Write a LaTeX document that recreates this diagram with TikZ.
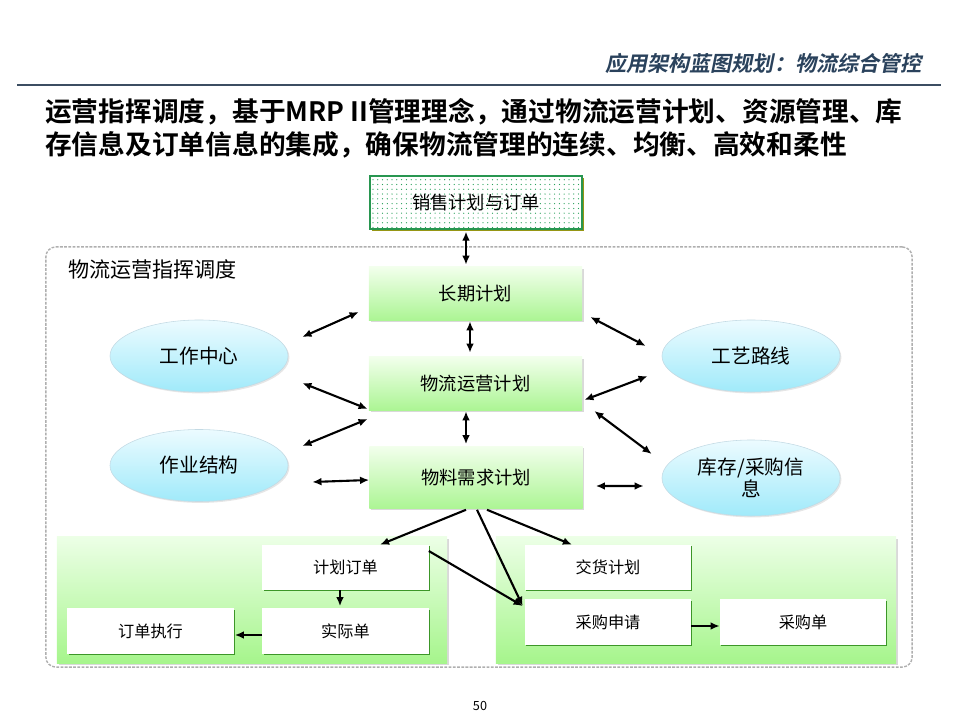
\documentclass[tikz,border=0pt]{standalone}
\usepackage{fontspec}
\setmainfont{Noto Sans CJK SC}
\newfontfamily\headfont[FakeSlant=0.2]{Noto Sans CJK SC Bold}
\newfontfamily\boldfont{Noto Sans CJK SC Bold}
\usetikzlibrary{arrows.meta,shapes.geometric,shadows,patterns,calc}

\definecolor{TitleColor}{RGB}{42,66,92}
\definecolor{RuleColor}{RGB}{60,78,98}
\definecolor{DotGreen}{RGB}{40,160,90}
\definecolor{EdgeGreen}{RGB}{40,150,80}
\definecolor{Olive}{RGB}{150,150,20}
\definecolor{GreenTop}{RGB}{242,255,236}
\definecolor{GreenBottom}{RGB}{172,245,148}
\definecolor{CyanTop}{RGB}{236,251,255}
\definecolor{CyanBottom}{RGB}{160,234,250}
\definecolor{CyanEdge}{RGB}{195,218,228}
\definecolor{PanelTop}{RGB}{236,255,230}
\definecolor{PanelBottom}{RGB}{166,245,140}
\definecolor{BoxEdge}{RGB}{60,150,40}
\definecolor{DashGray}{RGB}{175,175,175}

% sparse dots for the sales box
\pgfdeclarepatternformonly{sparsedots}{\pgfqpoint{-1pt}{-1pt}}{\pgfqpoint{1pt}{1pt}}{\pgfqpoint{3.4pt}{3.4pt}}%
  {\pgfpathcircle{\pgfqpoint{0pt}{0pt}}{0.45pt}\pgfusepath{fill}}

\tikzset{
  planbox/.style={minimum width=5.325cm, minimum height=1.325cm, top color=GreenTop, bottom color=GreenBottom,
    font=\fontsize{13}{15}\selectfont, drop shadow={shadow xshift=1.2pt, shadow yshift=-1.2pt, opacity=0.3}},
  resource/.style={ellipse, minimum width=4.45cm, minimum height=1.8cm, inner sep=0pt, top color=CyanTop,
    bottom color=CyanBottom, draw=CyanEdge, align=center, font=\fontsize{14}{16}\selectfont,
    drop shadow={shadow xshift=1pt, shadow yshift=-1pt, opacity=0.2}},
  panel/.style={top color=PanelTop, bottom color=PanelBottom, minimum height=3.15cm,
    drop shadow={shadow xshift=1.2pt, shadow yshift=-1.2pt, opacity=0.3}},
  orderbox/.style={fill=white, minimum width=4.15cm, minimum height=1.125cm, font=\fontsize{11.5}{13}\selectfont,
    drop shadow={shadow xshift=0.8pt, shadow yshift=-0.8pt, fill=BoxEdge, opacity=1}},
  link/.style={{Latex[length=6.5pt,width=5.5pt]}-{Latex[length=6.5pt,width=5.5pt]}, line width=1.5pt},
  flow/.style={-{Latex[length=6.5pt,width=5.5pt]}, line width=1.5pt}
}

\begin{document}
\begin{tikzpicture}[x=0.025cm, y=-0.025cm]
    \useasboundingbox (0,0) rectangle (960,720);

    % header
    \node[anchor=east, inner sep=0pt, text=TitleColor, font=\headfont\fontsize{15}{18}\selectfont] (header) at (922,63) {应用架构蓝图规划：物流综合管控};
    \draw[RuleColor, line width=1pt] (17,85) -- (941,85);
    \node[anchor=west, inner sep=0pt, align=left, font=\boldfont\fontsize{19}{23.5}\selectfont] (heading) at (45,128.5)
        {运营指挥调度，基于MRP II管理理念，通过物流运营计划、资源管理、库\\存信息及订单信息的集成，确保物流管理的连续、均衡、高效和柔性};

    % scope of dispatching
    \node[draw=DashGray, dash pattern=on 2pt off 1pt, line width=1pt, rounded corners=7pt, minimum width=21.65cm, minimum height=10.5cm] (outer) at (479,457) {};
    \node[anchor=west, inner sep=0pt, font=\fontsize{15}{17}\selectfont] (scopelabel) at (68,269) {物流运营指挥调度};

    \node[draw=EdgeGreen, line width=0.8pt, fill=white, postaction={pattern=sparsedots, pattern color=DotGreen},
        drop shadow={shadow xshift=1.5pt, shadow yshift=-1.5pt, fill=Olive, opacity=1},
        minimum width=5.3cm, minimum height=1.325cm, font=\fontsize{13}{15}\selectfont] (sales) at (476,202.5) {销售计划与订单};

    \node[planbox] (longplan) at (475.5,293.5) {长期计划};
    \node[planbox] (logplan) at (475.5,383.5) {物流运营计划};
    \node[planbox, minimum height=1.55cm] (mrp) at (476,477.5) {物料需求计划};

    \node[resource] (workcenter) at (199,356) {工作中心};
    \node[resource] (opstruct) at (199,465.5) {作业结构};
    \node[resource] (route) at (751,356) {工艺路线};
    \node[resource, minimum height=1.9cm] (stock) at (751,478) {库存/采购信\\息};

    % order panels
    \node[panel, minimum width=9.75cm] (leftpanel) at (252,600) {};
    \node[panel, minimum width=10cm] (rightpanel) at (696,600) {};

    \node[orderbox] (plannedorder) at (345.5,567.5) {计划订单};
    \node[orderbox] (actualorder) at (345.5,631) {实际单};
    \node[orderbox] (orderexec) at (150.5,631) {订单执行};
    \node[orderbox] (delivery) at (608,567.5) {交货计划};
    \node[orderbox] (purchreq) at (608,622) {采购申请};
    \node[orderbox] (purchorder) at (803,622) {采购单};

    \node[font=\fontsize{9}{10}\selectfont] (pagenum) at (480,706) {50};

    % links between plans
    \draw[link] ($(sales.south)+(-10,2)$) -- ($(longplan.north)+(-9.5,-2)$);
    \draw[link] ($(longplan.south)+(-5.5,1)$) -- ($(logplan.north)+(-5.5,-4)$);
    \draw[link] ($(logplan.south)+(-9.5,1)$) -- ($(mrp.north)+(-10,-2)$);

    % links to resources
    \draw[link] ($(workcenter.east)+(14,-19)$) -- ($(longplan.west)+(-10,18.5)$);
    \draw[link] ($(workcenter.east)+(14,27)$) -- ($(logplan.west)+(-1,25.5)$);
    \draw[link] ($(opstruct.east)+(14,-19.5)$) -- ($(logplan.west)+(-1,35.5)$);
    \draw[link] ($(opstruct.east)+(24,16.5)$) -- ($(mrp.west)+(0,2.5)$);
    \draw[link] ($(longplan.east)+(8,23.5)$) -- ($(route.west)+(-16,-10)$);
    \draw[link] ($(logplan.east)+(2,16.5)$) -- ($(route.west)+(-14,20)$);
    \draw[link] ($(logplan.east)+(12,27.5)$) -- ($(stock.west)+(-10,-24)$);
    \draw[link] ($(mrp.east)+(13,8.5)$) -- ($(stock.west)+(-18,8)$);

    % order flow
    \draw[flow] ($(mrp.south)+(-10,1)$) -- ($(plannedorder.north)+(34.5,0)$);
    \draw[flow] ($(mrp.south)+(11,1)$) -- ($(delivery.north)+(-36,0)$);
    \draw[flow] ($(mrp.south)+(1,1)$) -- ($(purchreq.west)+(-2,-16)$);
    \draw[flow] ($(plannedorder.east)+(0,-16.5)$) -- ($(purchreq.west)+(-2,-16)$);
    \draw[flow] ($(plannedorder.south)+(-5.5,0)$) -- ($(actualorder.north)+(-5.5,-2)$);
    \draw[flow] ($(actualorder.west)+(0,4)$) -- ($(orderexec.east)+(1,4)$);
    \draw[flow] ($(purchreq.east)+(0,4)$) -- ($(purchorder.west)+(0,4)$);
\end{tikzpicture}
\end{document}
